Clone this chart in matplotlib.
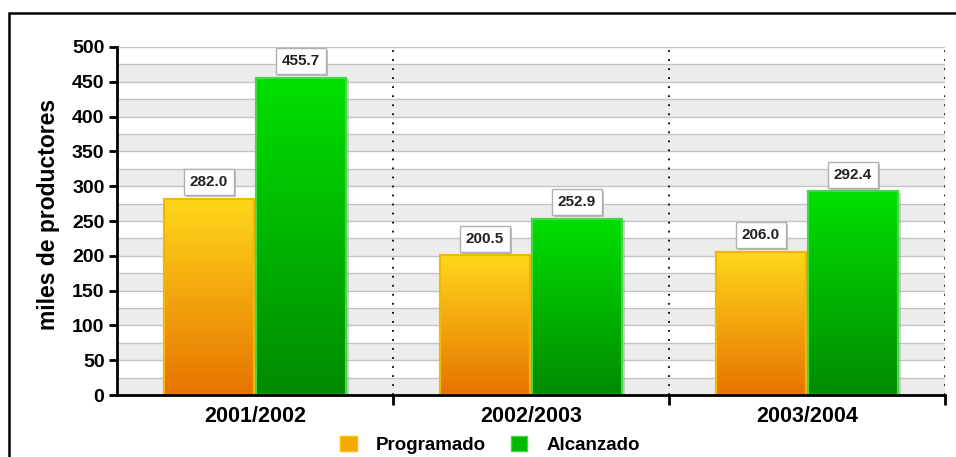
import numpy as np
import matplotlib
matplotlib.use("Agg")
import matplotlib.pyplot as plt
from matplotlib.colors import LinearSegmentedColormap
from matplotlib.patches import Rectangle, Patch
import matplotlib.patheffects as pe

plt.rcParams['font.family'] = ['Liberation Sans', 'DejaVu Sans']
plt.rcParams['font.weight'] = 'bold'

ciclos = ["2001/2002", "2002/2003", "2003/2004"]
programado = [282.0, 200.5, 206.0]
alcanzado = [455.7, 252.9, 292.4]
series = ["Programado", "Alcanzado"]

fig = plt.figure(figsize=(9.56, 4.57), dpi=100)
ax = fig.add_axes([117 / 956, 1 - 395 / 457, (945 - 117) / 956, (395 - 47) / 457])

# marco exterior
fig.patches.append(Rectangle((9 / 956, -0.1), 1.2, 1 - 13 / 457 + 0.1,
                             transform=fig.transFigure, fill=False,
                             ec='black', lw=1.8))

# bandas alternas del fondo
for y0 in range(0, 500, 50):
    ax.axhspan(y0, y0 + 25, color='#ECECEC', lw=0, zorder=0)
for y in range(25, 501, 25):
    ax.axhline(y, color='#C4C4C4', lw=1, zorder=1)

# separadores punteados entre ciclos
for xs in [0.5, 1.5, 2.5]:
    ax.axvline(xs, color='black', lw=1.3, ls=(0, (1, 4)), zorder=1)

w = 0.326
off = 0.167
estilos = {
    "Programado": ('#E67300', '#FFD81A', '#F2B705'),
    "Alcanzado": ('#008A00', '#00E000', '#45D845'),
}


def barra(x, h, c_bot, c_top, c_edge):
    # sombra
    ax.add_patch(Rectangle((x - w / 2 + 0.012, 0), w, h - 2, fc='#9A9A9A',
                           alpha=0.45, lw=0, zorder=2))
    cmap = LinearSegmentedColormap.from_list('g', [c_bot, c_top])
    grad = np.linspace(0, 1, 256).reshape(-1, 1)
    ax.imshow(grad, extent=(x - w / 2, x + w / 2, 0, h), origin='lower',
              cmap=cmap, aspect='auto', zorder=3)
    ax.add_patch(Rectangle((x - w / 2, 0), w, h, fill=False, ec=c_edge,
                           lw=1.6, zorder=4))
    t = ax.annotate(f"{h:.1f}", (x, h), xytext=(0, 7), textcoords='offset points',
                    ha='center', va='bottom', fontsize=11, fontweight='bold',
                    color='#222222', zorder=6,
                    bbox=dict(boxstyle='square,pad=0.4', fc='white',
                              ec='#B0B0B0', lw=1))
    t.get_bbox_patch().set_path_effects([pe.withSimplePatchShadow(offset=(1.5, -1.5),
                                                                   shadow_rgbFace='#888888',
                                                                   alpha=0.5)])


xs = np.arange(len(ciclos))
for i in xs:
    barra(i - off, programado[i], *estilos["Programado"])
    barra(i + off, alcanzado[i], *estilos["Alcanzado"])

ax.set_xlim(-0.5, 2.5)
ax.set_ylim(0, 500)
ax.set_yticks(range(0, 501, 50))
ax.set_yticklabels([str(v) for v in range(0, 501, 50)], fontsize=14, fontweight='bold')
ax.set_xticks([0.5, 1.5, 2.5])
ax.set_xticklabels([])
ax.set_xticks(xs, minor=True)
ax.set_xticklabels(ciclos, minor=True, fontsize=15.5, fontweight='bold')
ax.tick_params(axis='x', which='minor', length=0, pad=8)
ax.tick_params(axis='x', which='major', length=7, width=2, direction='out')
ax.tick_params(axis='y', length=6, width=2, pad=3)
ax.set_ylabel("miles de productores", fontsize=16.5, fontweight='bold')
ax.yaxis.set_label_coords(-0.069, 0.52)

for s in ['top', 'right']:
    ax.spines[s].set_visible(False)
for s in ['left', 'bottom']:
    ax.spines[s].set_linewidth(2)
    ax.spines[s].set_zorder(7)

handles = [Patch(fc='#F5A800', ec='#F2C400', label=series[0]),
           Patch(fc='#00B800', ec='#45D845', label=series[1])]
fig.legend(handles=handles, loc='center', bbox_to_anchor=(490 / 956, 1 - 445 / 457),
           ncol=2, frameon=False, handlelength=0.9, handleheight=0.9,
           handletextpad=1.0, columnspacing=1.3,
           prop={'size': 13.5, 'weight': 'bold'})

fig.savefig("out.png", dpi=100, facecolor='white')
